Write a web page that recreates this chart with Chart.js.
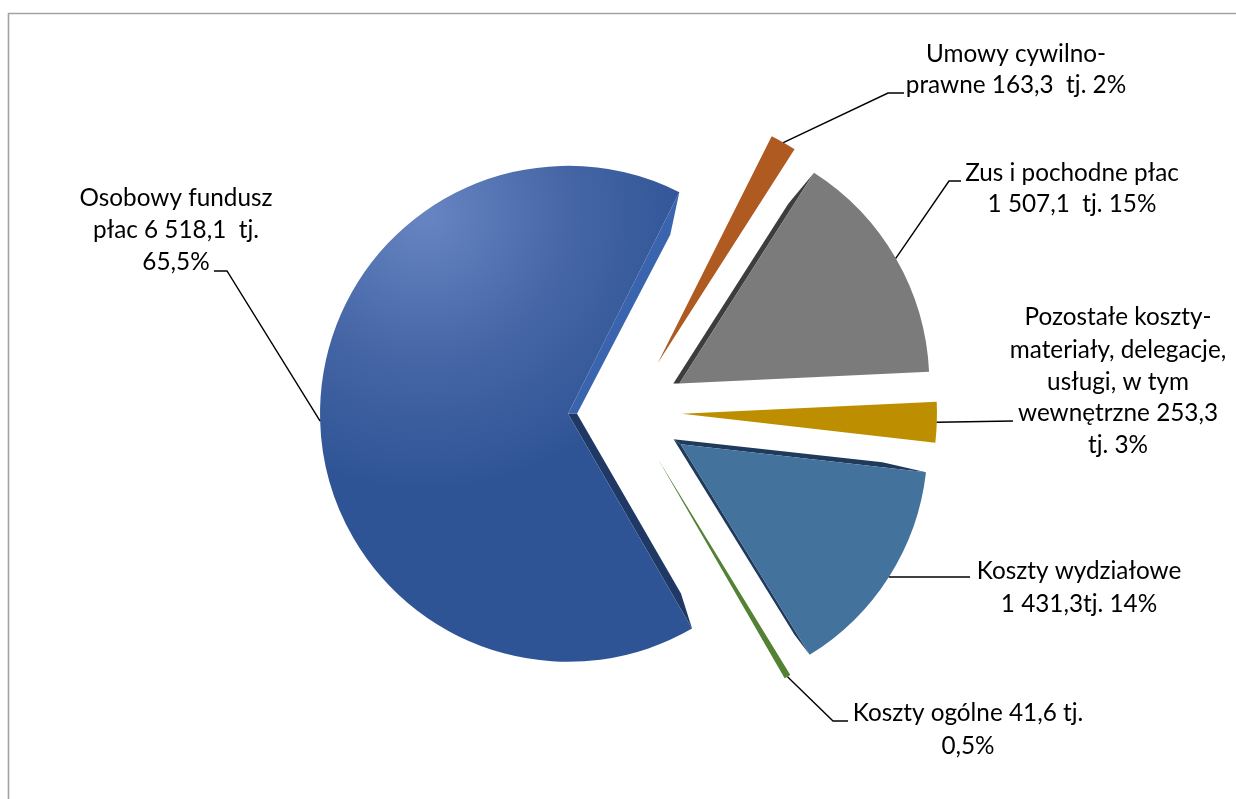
<!DOCTYPE html>
<html>
<head>
<meta charset="utf-8">
<style>html,body{margin:0;padding:0;background:#fff;overflow:hidden}canvas{display:block}</style>
<script src="https://cdn.jsdelivr.net/npm/chart.js@4"></script>
</head>
<body>
<canvas id="c" width="1236" height="799"></canvas>
<script>
const categories = ["Osobowy fundusz płac","Umowy cywilno-prawne","Zus i pochodne płac","Pozostałe koszty","Koszty wydziałowe","Koszty ogólne"];
const values = [6518.1,163.3,1507.1,253.3,1431.3,41.6];
const colors = ["#2f5496","#ae5a21","#7b7b7b","#bd8f00","#43729d","#548235"];
const labelLines = [
  ["Osobowy fundusz","płac 6 518,1  tj.","65,5%"],
  ["Umowy cywilno-","prawne 163,3  tj. 2%"],
  ["Zus i pochodne płac","1 507,1  tj. 15%"],
  ["Pozostałe koszty-","materiały, delegacje,","usługi, w tym","wewnętrzne 253,3","tj. 3%"],
  ["Koszty wydziałowe","1 431,3tj. 14%"],
  ["Koszty ogólne 41,6 tj.","0,5%"]
];

// layout / style only
const FONT = '24.3px Lato, Carlito, sans-serif';
const sliceLayout = [
  {d:62,r:248,text:{x:176,y:[206,238,270]},leader:[[214,271],[227,271]],
   bevels:[{edge:'start',col:'#1f3864',s:[9,0],t:.855,w:8},{edge:'end',col:'#3a65ae',s:[9,0],t:.83,w:11}]},
  {d:56,r:254,text:{x:1016,y:[62,93]},leader:[[904,93],[888,93]],bevels:[]},
  {d:57,r:250,text:{x:1072,y:[181,212]},leader:[[961,181],[949,181]],
   bevels:[{edge:'start',col:'#3d3d3d',s:[-6,0],t:.84,w:5}]},
  {d:52,r:255,text:{x:1118,y:[325,358,390,421,453]},leader:[[1013,421]],bevels:[]},
  {d:60,r:247,text:{x:1079,y:[579,612]},leader:[[970,577]],
   bevels:[{edge:'start',col:'#203a5c',s:[-7,-5],t:.82,w:5},{edge:'end',col:'#203a5c',s:[-7,-5],t:.9,w:2.5}]},
  {d:55,r:253,text:{x:968,y:[721,754]},leader:[[848,721],[833,721]],bevels:[]}
];

const explodePlugin = {
  id:'explode',
  afterDatasetUpdate(chart,args){
    args.meta.data.forEach((el,i)=>{
      const L = sliceLayout[i], mid=(el.startAngle+el.endAngle)/2;
      el.x += Math.cos(mid)*L.d;
      el.y += Math.sin(mid)*L.d;
      el.outerRadius = L.r;
    });
  },
  beforeDraw(chart){
    const c=chart.ctx;
    c.save();
    c.strokeStyle='#a3a3a3'; c.lineWidth=1.6;
    c.beginPath(); c.moveTo(8.5,799); c.lineTo(8.5,13.5); c.lineTo(1236,13.5); c.stroke();
    c.restore();
  },
  beforeDatasetsDraw(chart){
    const c=chart.ctx;
    chart.getDatasetMeta(0).data.forEach((el,i)=>{
      sliceLayout[i].bevels.forEach(b=>{
        const a = b.edge==='start'?el.startAngle:el.endAngle;
        const dx=Math.cos(a), dy=Math.sin(a);
        const sign = b.edge==='start'?-1:1;
        const nx=-dy*sign, ny=dx*sign;
        const R=el.outerRadius;
        c.save();
        c.fillStyle=b.col;
        c.beginPath();
        c.moveTo(el.x,el.y);
        c.lineTo(el.x+b.s[0],el.y+b.s[1]);
        c.lineTo(el.x+dx*R*b.t+nx*b.w,el.y+dy*R*b.t+ny*b.w);
        c.lineTo(el.x+dx*R,el.y+dy*R);
        c.closePath(); c.fill();
        c.restore();
      });
    });
  },
  afterDatasetsDraw(chart){
    const c=chart.ctx;
    chart.getDatasetMeta(0).data.forEach((el,i)=>{
      const L=sliceLayout[i], mid=(el.startAngle+el.endAngle)/2;
      c.save();
      c.strokeStyle='#000'; c.lineWidth=1.4;
      c.beginPath();
      L.leader.forEach((p,k)=>k?c.lineTo(p[0],p[1]):c.moveTo(p[0],p[1]));
      c.lineTo(el.x+Math.cos(mid)*el.outerRadius,el.y+Math.sin(mid)*el.outerRadius);
      c.stroke();
      c.fillStyle='#000'; c.font=FONT; c.textAlign='center'; c.textBaseline='alphabetic';
      labelLines[i].forEach((t,k)=>c.fillText(t,L.text.x,L.text.y[k]));
      c.restore();
    });
  }
};

function sliceFill(ctx){
  if(ctx.dataIndex!==0) return colors[ctx.dataIndex];
  const g=ctx.chart.ctx.createRadialGradient(425,215,10,425,215,275);
  g.addColorStop(0,'#6583c0');
  g.addColorStop(.5,'#4666a6');
  g.addColorStop(1,'#2f5496');
  return g;
}

new Chart(document.getElementById('c'),{
  type:'pie',
  data:{labels:categories,datasets:[{data:values,backgroundColor:sliceFill,borderWidth:0}]},
  options:{
    responsive:false,animation:false,
    rotation:150,radius:250,
    layout:{padding:{left:24,top:25,right:0,bottom:0}},
    plugins:{legend:{display:false},tooltip:{enabled:false},title:{display:false}}
  },
  plugins:[explodePlugin]
});
</script>
</body>
</html>
